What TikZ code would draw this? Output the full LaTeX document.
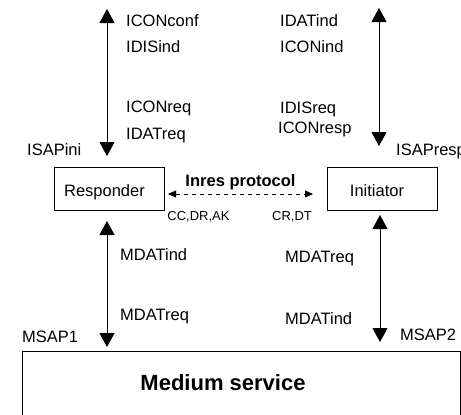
\documentclass[tikz,border=0pt]{standalone}
\usepackage{fontspec}
\setmainfont{Liberation Sans}
\usetikzlibrary{arrows.meta}

\begin{document}
\begin{tikzpicture}[x=1pt,y=-1pt,
    box/.style={draw,line width=0.8pt,minimum width=110pt,minimum height=43pt,inner sep=0pt},
    lbl/.style={anchor=base west,inner sep=0pt,font=\fontsize{16.5}{18}\selectfont},
    tinylbl/.style={anchor=base,inner sep=0pt,font=\fontsize{13}{15}\selectfont},
    sap/.style={line width=0.8pt,{Triangle[width=15pt,length=14pt]}-{Triangle[width=15pt,length=14pt]}},
    proto/.style={line width=0.8pt,dash pattern=on 4pt off 4pt,{Triangle[width=7pt,length=8pt]}-{Triangle[width=7pt,length=8pt]}}]
    \useasboundingbox (0,0) rectangle (461,415);
    \clip (0,0) rectangle (461,415);

    % Boxes
    \node[box] (resp) at (109,188.5) {};
    \node[box] (init) at (382.5,188.5) {};
    \node[box,minimum width=438pt,minimum height=90pt,anchor=north west] (medium) at (22,351) {};
    \node[lbl,anchor=base] (resptxt) at (104.5,196.7) {Responder};
    \node[lbl,anchor=base] (inittxt) at (377,196.7) {Initiator};
    \node[anchor=base,inner sep=0pt,font=\bfseries\fontsize{22}{26}\selectfont] (medtxt) at (223,390.5) {Medium service};

    % Access points
    \coordinate (ltop) at (107,9);
    \coordinate (isapini) at (107,156);
    \coordinate (rtop) at (379,8);
    \coordinate (isapresp) at (379,146);
    \coordinate (lmid) at (107,221);
    \coordinate (msap1) at (107,347);
    \coordinate (rmid) at (380,215);
    \coordinate (msap2) at (380,342);
    \coordinate (pl) at (168,194);
    \coordinate (pr) at (313,194);

    % Arrows
    \draw[sap] (ltop) -- (isapini);
    \draw[sap] (rtop) -- (isapresp);
    \draw[sap] (lmid) -- (msap1);
    \draw[sap] (rmid) -- (msap2);
    \draw[proto] (pl) -- (pr);

    % Protocol
    \node[anchor=base,inner sep=0pt,font=\bfseries\fontsize{16.5}{18}\selectfont] (inres) at (240.5,186.7) {Inres protocol};
    \node[tinylbl] (ccdrak) at (198.5,220) {CC,DR,AK};
    \node[tinylbl] (crdt) at (292,220) {CR,DT};

    % Primitives
    \foreach \nm/\x/\y/\txt in {
        iconconf/126/26.7/ICONconf,
        idisind/126/52.3/IDISind,
        iconreq/126/112.7/ICONreq,
        idatreq/126/139/IDATreq,
        isapinitxt/27/155/ISAPini,
        idatind/280/26.7/IDATind,
        iconind/280/52.3/ICONind,
        idisreq/280/113/IDISreq,
        iconresp/278/133/ICONresp,
        isaprsptxt/396/155/ISAPresp,
        mdatindl/120/260/MDATind,
        mdatreql/120/320.7/MDATreq,
        mdatreqr/285/262.7/MDATreq,
        mdatindr/285/324/MDATind,
        msapa/22/342/MSAP1,
        msapb/400/340/MSAP2
    }
    \node[lbl] (\nm) at (\x,\y) {\txt};
\end{tikzpicture}
\end{document}
